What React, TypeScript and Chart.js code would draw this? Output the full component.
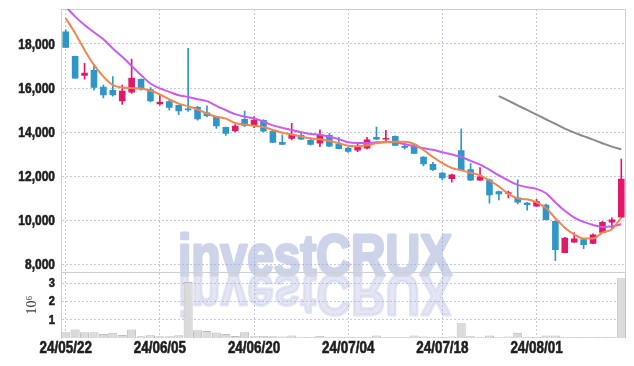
import React, { useEffect, useRef } from 'react';
import { Chart, registerables } from 'chart.js';

Chart.register(...registerables);

const dates = [
  '24/05/22', '24/05/23', '24/05/24', '24/05/27', '24/05/28', '24/05/29', '24/05/30', '24/05/31',
  '24/06/03', '24/06/04', '24/06/05', '24/06/07', '24/06/10', '24/06/11', '24/06/12', '24/06/13',
  '24/06/14', '24/06/17', '24/06/18', '24/06/19', '24/06/20', '24/06/21', '24/06/24', '24/06/25',
  '24/06/26', '24/06/27', '24/06/28', '24/07/01', '24/07/02', '24/07/03', '24/07/04', '24/07/05',
  '24/07/08', '24/07/09', '24/07/10', '24/07/11', '24/07/12', '24/07/15', '24/07/16', '24/07/17',
  '24/07/18', '24/07/19', '24/07/22', '24/07/23', '24/07/24', '24/07/25', '24/07/26', '24/07/29',
  '24/07/30', '24/07/31', '24/08/01', '24/08/02', '24/08/05', '24/08/06', '24/08/07', '24/08/08',
  '24/08/09', '24/08/12', '24/08/13', '24/08/14',
];

const opens = [
  18560, 17450, 16560, 16820, 16060, 15910, 15410, 15800, 16410, 15950,
  15270, 15410, 15230, 15080, 15140, 14900, 14700, 14240, 14050, 14600,
  14300, 14560, 14060, 13560, 13710, 13880, 13650, 13490, 13880, 13470,
  13300, 13170, 13270, 13790, 13670, 13830, 13380, 13450, 12890, 12560,
  12170, 11880, 13190, 12320, 11820, 11860, 11330, 11210, 11040, 10810,
  10640, 10720, 9980, 8530, 9010, 9150, 8950, 9450, 9910, 10140,
];
const closes = [
  17830, 16440, 16700, 16020, 15680, 15680, 15880, 16470, 15940, 15410,
  15380, 15110, 14950, 15000, 14590, 14740, 14270, 13930, 14290, 14290,
  14570, 14030, 13530, 13440, 13920, 13670, 13440, 13880, 13350, 13240,
  13120, 13390, 13670, 13670, 13740, 13390, 13300, 13030, 12550, 12290,
  11920, 12090, 12280, 11820, 12000, 11150, 11190, 11280, 10820, 10700,
  10870, 10030, 8670, 9220, 9190, 8890, 9370, 9940, 10050, 11890,
];
const highs = [
  18640, 17450, 17120, 17080, 16140, 16520, 16140, 17320, 16420, 16020,
  15710, 15450, 15230, 17800, 15170, 15200, 14700, 14240, 14350, 14960,
  14710, 14570, 14060, 13880, 14410, 14000, 13760, 14110, 13950, 13770,
  13320, 13450, 13770, 14230, 14090, 13840, 13500, 13470, 12900, 12640,
  12200, 12100, 14140, 12580, 12400, 11880, 11340, 11330, 11850, 10820,
  10960, 10750, 9990, 9240, 9440, 9150, 9400, 9960, 10120, 12780,
];
const lows = [
  17830, 16440, 16410, 15910, 15560, 15640, 15260, 15760, 15910, 15380,
  15230, 15000, 14800, 14950, 14550, 14700, 14170, 13860, 14020, 14250,
  14210, 14020, 13530, 13440, 13650, 13660, 13410, 13350, 13350, 13240,
  13090, 13120, 13240, 13670, 13550, 13390, 13230, 13030, 12480, 12260,
  11840, 11740, 12280, 11820, 11820, 10790, 10930, 11020, 10750, 10470,
  10640, 10030, 8180, 8530, 9000, 8730, 8950, 9450, 9650, 10140,
];

const volumes = [
  320000, 470000, 320000, 320000, 220000, 280000, 170000, 470000, 90000, 150000,
  90000, 90000, 150000, 3060000, 420000, 380000, 300000, 220000, 110000, 320000,
  100000, 120000, 100000, 80000, 130000, 70000, 60000, 120000, 70000, 60000,
  50000, 60000, 50000, 140000, 60000, 50000, 60000, 140000, 80000, 70000,
  60000, 80000, 800000, 100000, 60000, 130000, 50000, 80000, 280000, 60000,
  70000, 140000, 140000, 60000, 50000, 50000, 50000, 50000, 60000, 3260000,
];

const ma5 = [
  19170, 18490, 17730, 17050, 16520, 16140, 16030, 16000, 15985, 15880,
  15710, 15490, 15300, 15180, 15030, 14850, 14700, 14620, 14420, 14350,
  14300, 14240, 14100, 13980, 13900, 13810, 13720, 13680, 13606, 13500,
  13394, 13363, 13409, 13500, 13560, 13575, 13575, 13470, 13197, 12880,
  12600, 12382, 12275, 12168, 12046, 11817, 11542, 11206, 11007, 10962,
  10824, 10565, 10107, 9679, 9374, 9190, 9190, 9450, 9603, 10137,
];
const ma20 = [
  19690, 19240, 18860, 18530, 18210, 17800, 17420, 17000, 16590, 16210,
  15985, 15830, 15680, 15600, 15500, 15410, 15200, 15000, 14820, 14705,
  14630, 14490, 14310, 14200, 14100, 14000, 13925, 13885, 13800, 13690,
  13545, 13515, 13515, 13545, 13545, 13545, 13454, 13363, 13272, 13210,
  13095, 12993, 12886, 12702, 12534, 12305, 12046, 11817, 11618, 11511,
  11435, 11236, 10824, 10442, 10137, 9939, 9801, 9710, 9740, 9832,
];
const ma60 = [
  null, null, null, null, null, null, null, null, null, null,
  null, null, null, null, null, null, null, null, null, null,
  null, null, null, null, null, null, null, null, null, null,
  null, null, null, null, null, null, null, null, null, null,
  null, null, null, null, null, null, 15640, 15430, 15220, 15010,
  14800, 14590, 14380, 14165, 13985, 13825, 13665, 13505, 13350, 13225,
];

const priceTicks = [8000, 10000, 12000, 14000, 16000, 18000];
const volumeTicks = [1000000, 2000000, 3000000];
const labelEvery = 10;
const watermarkText = 'investCRUX';
const volumeTitle = '10⁶';

const UP = '#e2196b';
const DOWN = '#2f96c8';
const ORANGE = '#ee8752';
const PURPLE = '#c95cec';
const GRAY = '#8a8a8a';
const GRID = 'rgba(150,156,200,0.55)';
const AXIS = '#cfcfcf';
const LABEL_FAMILY = '"Liberation Sans", Arial, sans-serif';

export default function App() {
  const ref = useRef<HTMLCanvasElement>(null);

  useEffect(() => {
    if (!ref.current) return;
    const colors = opens.map((o, i) => (closes[i] >= o ? UP : DOWN));

    const watermark = {
      id: 'watermark',
      beforeDraw(chart: any) {
        const { ctx } = chart;
        const cx = 315;
        const by = 275;
        const paint = (flip: number, alpha: number) => {
          ctx.save();
          ctx.globalAlpha = alpha;
          ctx.font = `bold 57px ${LABEL_FAMILY}`;
          ctx.fillStyle = '#cdd4ea';
          ctx.strokeStyle = '#cdd4ea';
          ctx.lineWidth = 3;
          ctx.lineJoin = 'round';
          ctx.textAlign = 'center';
          ctx.textBaseline = 'alphabetic';
          ctx.translate(cx, by);
          ctx.scale(0.84, flip);
          ctx.fillText(watermarkText, 0, 0);
          ctx.strokeText(watermarkText, 0, 0);
          ctx.restore();
        };
        paint(1, 1);
        paint(-1, 0.55);
      },
    };

    const frame = {
      id: 'frame',
      beforeDatasetsDraw(chart: any) {
        const { ctx, chartArea: a } = chart;
        const sep = Math.round(chart.scales.y.bottom) + 0.5;
        ctx.save();
        ctx.strokeStyle = AXIS;
        ctx.lineWidth = 1;
        ctx.beginPath();
        ctx.moveTo(a.left, Math.round(a.top) + 0.5);
        ctx.lineTo(a.right, Math.round(a.top) + 0.5);
        ctx.moveTo(a.left, sep);
        ctx.lineTo(a.right, sep);
        ctx.moveTo(Math.round(a.right) - 0.5, a.top);
        ctx.lineTo(Math.round(a.right) - 0.5, a.bottom);
        ctx.stroke();
        ctx.restore();
      },
    };

    const axisLabels = {
      id: 'axisLabels',
      afterDraw(chart: any) {
        const { ctx } = chart;
        const ys = chart.scales.y;
        const vs = chart.scales.y2;
        const xs = chart.scales.x;
        const put = (text: string, x: number, y: number, align: CanvasTextAlign, size: number, sx: number) => {
          ctx.save();
          ctx.font = `bold ${size}px ${LABEL_FAMILY}`;
          ctx.fillStyle = '#1e1e1e';
          ctx.strokeStyle = '#1e1e1e';
          ctx.lineWidth = 0.6;
          ctx.textAlign = align;
          ctx.textBaseline = 'middle';
          ctx.translate(x, y);
          ctx.scale(sx, 1);
          ctx.fillText(text, 0, 0);
          ctx.strokeText(text, 0, 0);
          ctx.restore();
        };
        priceTicks.forEach((v) => put(v.toLocaleString('en-US'), ys.right - 6, ys.getPixelForValue(v) + 0.5, 'right', 15, 0.8));
        volumeTicks.forEach((v) => put(String(v / 1000000), vs.right - 6, vs.getPixelForValue(v) + 0.5, 'right', 13, 0.85));
        dates.forEach((d, i) => {
          if (i % labelEvery === 0) put(d, xs.getPixelForValue(i), xs.top + 10.5, 'center', 16, 0.84);
        });
      },
    };

    const chart = new Chart(ref.current, {
      data: {
        labels: dates,
        datasets: [
          {
            type: 'line', label: 'MA5', data: ma5, yAxisID: 'y', order: 0,
            borderColor: ORANGE, borderWidth: 2, pointRadius: 0, cubicInterpolationMode: 'monotone',
          },
          {
            type: 'line', label: 'MA20', data: ma20, yAxisID: 'y', order: 0,
            borderColor: PURPLE, borderWidth: 2, pointRadius: 0, cubicInterpolationMode: 'monotone',
          },
          {
            type: 'line', label: 'MA60', data: ma60 as any, yAxisID: 'y', order: 0,
            borderColor: GRAY, borderWidth: 2, pointRadius: 0, cubicInterpolationMode: 'monotone',
          },
          {
            type: 'bar', label: 'wick', data: lows.map((l, i) => [l, highs[i]]) as any, yAxisID: 'y', order: 2,
            backgroundColor: colors, barThickness: 1, grouped: false,
          },
          {
            type: 'bar', label: 'body', data: opens.map((o, i) => [o, closes[i]]) as any, yAxisID: 'y', order: 1,
            backgroundColor: colors, barPercentage: 0.7, categoryPercentage: 1, grouped: false, minBarLength: 1,
          },
          {
            type: 'bar', label: 'volume', data: volumes, yAxisID: 'y2', order: 3,
            backgroundColor: '#dadada', borderColor: '#bcbcbc', borderWidth: 1,
            barPercentage: 0.96, categoryPercentage: 1, grouped: false,
          },
        ] as any,
      },
      options: {
        animation: false,
        responsive: false,
        layout: { padding: { top: 9, right: 8, left: 0, bottom: 0 } },
        plugins: { legend: { display: false }, tooltip: { enabled: false } },
        scales: {
          x: {
            type: 'category',
            offset: true,
            grid: {
              offset: false,
              drawTicks: false,
              color: (c: any) => (c.index % labelEvery === 0 ? GRID : 'transparent'),
            },
            border: { display: false, dash: [2, 2] },
            ticks: { display: false, autoSkip: false },
            afterFit: (s: any) => { s.height = 28; s.paddingLeft = 0; s.paddingRight = 0; },
          },
          y: {
            type: 'linear',
            position: 'left',
            stack: 'panes',
            stackWeight: 4,
            weight: 1,
            min: 7660,
            max: 19585,
            afterBuildTicks: (s: any) => { s.ticks = priceTicks.map((v) => ({ value: v })); },
            grid: { drawTicks: false, color: GRID },
            border: { display: true, color: AXIS, dash: [2, 2] },
            ticks: { display: false, autoSkip: false },
            afterFit: (s: any) => { s.width = 61; s.paddingTop = 0; s.paddingBottom = 0; },
          },
          y2: {
            type: 'linear',
            position: 'left',
            stack: 'panes',
            stackWeight: 1,
            weight: 0,
            min: 0,
            max: 3590000,
            afterBuildTicks: (s: any) => { s.ticks = volumeTicks.map((v) => ({ value: v })); },
            grid: { drawTicks: false, color: GRID },
            border: { display: true, color: AXIS, dash: [2, 2] },
            ticks: { display: false, autoSkip: false },
            title: {
              display: true,
              text: volumeTitle,
              color: '#333',
              font: { family: '"Liberation Serif", "DejaVu Serif", serif', size: 14 },
              padding: { top: 24, bottom: 0 },
            },
            afterFit: (s: any) => { s.width = 61; s.paddingTop = 0; s.paddingBottom = 0; },
          },
        } as any,
      },
      plugins: [watermark, frame, axisLabels],
    } as any);

    return () => chart.destroy();
  }, []);

  return (
    <div style={{ position: 'fixed', left: 0, top: 0, width: 634, height: 366, background: '#fff' }}>
      <canvas ref={ref} width={634} height={366} style={{ display: 'block' }} />
    </div>
  );
}
